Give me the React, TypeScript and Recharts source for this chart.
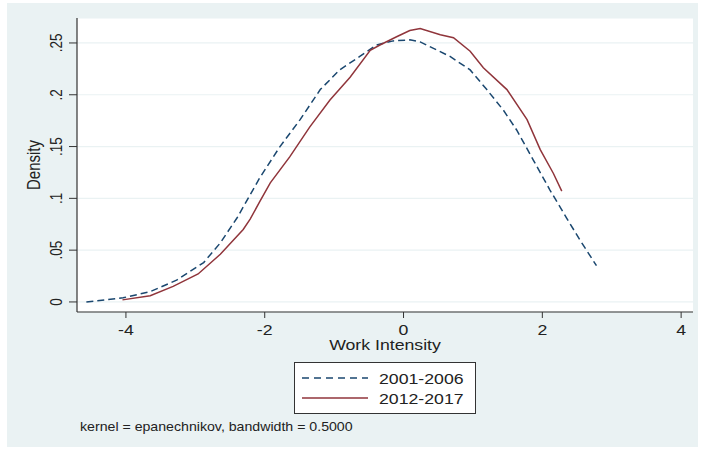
import React from "react";
import { LineChart, Line, XAxis, YAxis, CartesianGrid } from "recharts";

// 2001-2006 density estimate (x = work intensity, y = density)
const x2001 = [-4.57, -4.04, -3.65, -3.27, -2.88, -2.64, -2.4, -2.07, -1.78, -1.49, -1.2, -0.92, -0.63, -0.39, -0.15, 0.09, 0.24, 0.67, 0.96, 1.2, 1.44, 1.63, 1.87, 2.11, 2.35, 2.54, 2.78];
const y2001 = [0.0, 0.004, 0.01, 0.021, 0.038, 0.057, 0.081, 0.12, 0.15, 0.176, 0.205, 0.224, 0.237, 0.248, 0.252, 0.253, 0.251, 0.237, 0.224, 0.205, 0.185, 0.166, 0.137, 0.108, 0.081, 0.06, 0.035];

// 2012-2017 density estimate
const x2012 = [-4.05, -3.65, -3.32, -2.96, -2.64, -2.31, -2.21, -2.07, -1.92, -1.64, -1.35, -1.06, -0.77, -0.48, -0.34, -0.1, 0.09, 0.24, 0.53, 0.72, 0.96, 1.15, 1.49, 1.78, 1.97, 2.16, 2.28];
const y2012 = [0.002, 0.006, 0.015, 0.027, 0.046, 0.07, 0.08, 0.097, 0.115, 0.14, 0.169, 0.195, 0.217, 0.243, 0.248, 0.256, 0.262, 0.264, 0.258, 0.255, 0.242, 0.226, 0.205, 0.176, 0.147, 0.124, 0.107];

const xTicks = [-4, -2, 0, 2, 4];
const yTicks = [0, 0.05, 0.1, 0.15, 0.2, 0.25];
const yTickLabels = ["0", ".05", ".1", ".15", ".2", ".25"];
const seriesNames = ["2001-2006", "2012-2017"];
const xTitle = "Work Intensity";
const yTitle = "Density";
const note = "kernel = epanechnikov, bandwidth = 0.5000";

const data2001 = x2001.map((x, i) => ({ x, y: y2001[i] }));
const data2012 = x2012.map((x, i) => ({ x, y: y2012[i] }));

const BLUE = "#1a476f";
const RED = "#90353b";
const BG = "#eaf2f3";
const FONT = "'Liberation Sans', Arial, sans-serif";
const SX = 1.18;

const XTick = (props: any) => {
  const { x, y, payload } = props;
  return (
    <text transform={`translate(${x},${y + 15}) scale(${SX},1)`} textAnchor="middle" fontSize={15} fill="#222" fontFamily={FONT}>
      {String(payload.value)}
    </text>
  );
};

const YTick = (props: any) => {
  const { x, y, payload } = props;
  const idx = yTicks.indexOf(payload.value);
  const label = idx >= 0 ? yTickLabels[idx] : String(payload.value);
  return (
    <text transform={`translate(${x},${y}) rotate(-90) scale(1,${SX})`} textAnchor="middle" fontSize={13.5} fill="#222" fontFamily={FONT}>
      {label}
    </text>
  );
};

const XTitle = (props: any) => {
  const vb = props.viewBox;
  return (
    <text transform={`translate(${vb.x + vb.width / 2},${vb.y + 38}) scale(${SX},1)`} textAnchor="middle" fontSize={15} fill="#222" fontFamily={FONT}>
      {xTitle}
    </text>
  );
};

const YTitle = (props: any) => {
  const vb = props.viewBox;
  return (
    <text transform={`translate(${vb.x + 33},${vb.y + vb.height / 2}) rotate(-90) scale(1,${SX})`} textAnchor="middle" fontSize={15} fill="#222" fontFamily={FONT}>
      {yTitle}
    </text>
  );
};

export default function App() {
  return (
    <div style={{ position: "absolute", left: 0, top: 0, width: 701, height: 450, background: "#fff" }}>
      <div style={{ position: "absolute", left: 7, top: 3, width: 691, height: 444, background: BG }} />
      <div style={{ position: "absolute", left: 0, top: 0 }}>
        <LineChart width={701} height={450} data={data2001} margin={{ top: 18, right: 8, bottom: 108, left: 7 }}>
          <CartesianGrid horizontal vertical={false} stroke={BG} strokeWidth={1.2} fill="#ffffff" fillOpacity={1} />
          <XAxis
            dataKey="x"
            type="number"
            domain={[-4.705, 4.171]}
            ticks={xTicks}
            allowDataOverflow
            height={30}
            tickSize={6}
            tickMargin={2}
            tick={<XTick />}
            axisLine={{ stroke: "#333", strokeWidth: 1.2 }}
            tickLine={{ stroke: "#333", strokeWidth: 1 }}
            label={<XTitle />}
          />
          <YAxis
            dataKey="y"
            type="number"
            domain={[-0.0097, 0.2741]}
            ticks={yTicks}
            allowDataOverflow
            width={70}
            tickSize={8}
            tickMargin={7}
            tick={<YTick />}
            axisLine={{ stroke: "#333", strokeWidth: 1.2 }}
            tickLine={{ stroke: "#333", strokeWidth: 1 }}
            label={<YTitle />}
          />
          <Line data={data2001} dataKey="y" name={seriesNames[0]} type="linear" stroke={BLUE} strokeWidth={1.5} strokeDasharray="7 4" dot={false} isAnimationActive={false} />
          <Line data={data2012} dataKey="y" name={seriesNames[1]} type="linear" stroke={RED} strokeWidth={1.5} dot={false} isAnimationActive={false} />
        </LineChart>
      </div>
      <svg width={701} height={450} style={{ position: "absolute", left: 0, top: 0, pointerEvents: "none" }}>
        <rect x={294.5} y={362.5} width={181} height={51} fill="#fff" stroke="#333" strokeWidth={1} />
        <line x1={302} y1={378} x2={368} y2={378} stroke={BLUE} strokeWidth={1.5} strokeDasharray="7 5" />
        <line x1={302} y1={398} x2={368} y2={398} stroke={RED} strokeWidth={1.5} />
        <text transform={`translate(379,383.5) scale(${SX},1)`} fontSize={15} fill="#222" fontFamily={FONT}>{seriesNames[0]}</text>
        <text transform={`translate(379,403.5) scale(${SX},1)`} fontSize={15} fill="#222" fontFamily={FONT}>{seriesNames[1]}</text>
        <text transform={`translate(80,431) scale(${SX},1)`} fontSize={12} fill="#222" fontFamily={FONT}>{note}</text>
      </svg>
    </div>
  );
}
